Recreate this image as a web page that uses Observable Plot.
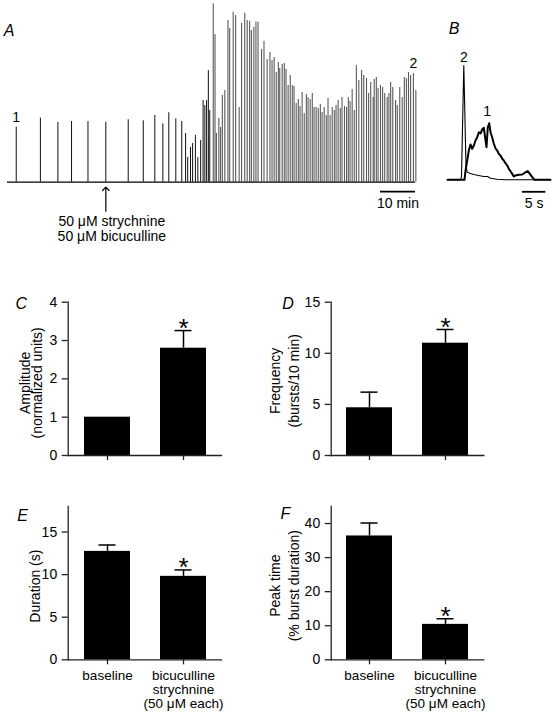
<!DOCTYPE html>
<html><head><meta charset="utf-8">
<script src="https://cdn.jsdelivr.net/npm/d3@7"></script>
<script src="https://cdn.jsdelivr.net/npm/@observablehq/plot@0.6"></script>
<style>
body{margin:0;background:#fff;}
#fig{position:relative;width:554px;height:713px;background:#fff;}
</style></head><body><div id="fig"></div>
<script>
// ---------- Panel A: burst train (time in min, amplitude in % of largest burst) ----------
const burstTime = [0.2, 7.1, 12.1, 16.0, 20.7, 25.8, 32.2, 36.5, 39.8, 42.1, 43.8, 45.8, 47.5,
  48.6, 49.2, 50.0, 50.6, 51.4, 52.1, 52.9, 53.6, 54.1, 54.6, 55.1, 55.5, 56.5, 57.0, 57.4, 58.1, 58.6,
  59.1, 59.8, 60.7, 61.2, 62.2, 62.9, 63.9, 64.6, 65.5, 66.2, 66.9, 67.4, 68.1, 68.7, 69.3, 70.3, 71.0,
  71.9, 72.7, 73.3, 73.9, 74.5, 75.1, 75.5, 76.2, 76.8, 77.3, 77.9, 78.5, 79.1, 79.6, 80.2, 80.8, 81.3,
  81.9, 82.5, 83.1, 83.6, 84.2, 84.8, 85.3, 85.9, 86.5, 87.1, 87.6, 88.2, 88.8, 89.3, 89.9, 90.5, 91.1,
  91.6, 92.2, 92.8, 93.3, 94.0, 94.6, 95.1, 95.6, 96.2, 96.8, 97.4, 98.1, 98.9, 99.5, 100.3, 100.9,
  101.5, 102.2, 102.5, 103.1, 103.6, 104.3, 104.9, 105.5, 106.2, 106.7, 107.2, 107.8, 108.6, 109.1,
  109.8, 110.5, 111.1, 111.7, 112.3, 112.9, 113.7, 114.4];
const burstAmp = [30.6, 35.6, 33.2, 33.7, 33.7, 33.3, 34.7, 34.1, 37.1, 32.4, 38.6, 35.2, 33.7,
  27.0, 13.7, 19.3, 21.5, 26.0, 13.7, 23.2, 45.4, 42.6, 45.4, 62.0, 39.8, 99.1, 82.0, 27.0, 35.4, 30.4,
  48.2, 51.0, 89.8, 85.4, 94.4, 92.6, 41.5, 88.2, 93.9, 89.8, 89.4, 84.3, 86.1, 89.0, 88.9, 73.7, 78.3,
  68.2, 72.1, 67.6, 69.3, 60.9, 66.5, 63.2, 65.4, 65.9, 62.6, 53.7, 59.3, 53.7, 53.2, 43.7, 45.9, 42.1,
  49.8, 38.2, 48.7, 47.1, 45.9, 49.3, 41.5, 41.5, 40.9, 43.2, 38.7, 41.5, 37.1, 46.5, 37.1, 41.5, 39.8,
  42.6, 45.4, 40.9, 47.1, 42.1, 41.5, 47.1, 44.8, 51.5, 39.8, 64.8, 56.5, 62.1, 59.3, 57.6, 49.3,
  55.4, 47.1, 57.1, 58.2, 52.1, 53.7, 52.6, 49.3, 47.1, 49.3, 55.4, 52.6, 45.4, 42.6,
  52.6, 47.1, 58.2, 57.6, 60.9, 59.3, 60.4, 50.9];
const burstLabelIdx = [0, 117];          // bursts marked "1" and "2"
const burstLabelText = ["1", "2"];
const drugTime = 25.8;                   // min, time of drug application
const drugLines = ["50 μM strychnine", "50 μM bicuculline"];
const scaleA = {end: 114.3, len: 10, label: "10 min"};

// ---------- Panel B: single bursts (time in s, amplitude relative to burst 2 peak) ----------
const b1Time = [0, 3.63, 3.85, 4.21, 4.55, 4.91, 5.28, 5.62, 5.98, 6.35, 6.69, 7.05, 7.41, 7.76, 8.12, 8.33,
  8.61, 8.91, 9.19, 9.55, 9.89, 10.26, 10.62, 10.96, 11.32, 11.69, 12.03, 12.39, 12.76, 13.1, 13.46, 13.82,
  14.17, 14.53, 15.24, 15.96, 16.67, 17.16, 17.59, 18.1, 18.59, 22];
const b1Amp = [0, 0, 0.08, 0.169, 0.256, 0.309, 0.271, 0.3, 0.344, 0.373, 0.416, 0.405, 0.44, 0.455, 0.344, 0.285,
  0.46, 0.495, 0.416, 0.37, 0.318, 0.274, 0.256, 0.227, 0.213, 0.184, 0.169, 0.145, 0.125, 0.096, 0.075, 0.052,
  0.029, 0.038, 0.044, 0.046, 0.066, 0.075, 0.052, 0.023, 0, 0];
const b2Time = [0, 2.78, 2.99, 3.48, 3.95, 4.21, 4.91, 5.62, 6.62, 7.76, 8.55, 9.19, 10.6, 12.4, 22];
const b2Amp = [0, 0, 0.03, 1.0, 0.125, 0.066, 0.055, 0.046, 0.038, 0.029, 0.029, 0.014, 0.005, 0, 0];
const scaleB = {end: 21, len: 5, label: "5 s"};

// ---------- Panels C–F: bar data ----------
const groups = ["baseline", "bicuculline\nstrychnine\n(50 μM each)"];
const ampMean = [1.0, 2.80],  ampErr = [0, 0.46];
const freqMean = [4.67, 10.99], freqErr = [1.53, 1.34];
const durMean = [12.73, 9.8], durErr = [0.75, 0.75];
const peakMean = [36.35, 10.4], peakErr = [3.8, 1.65];
const signif = ["", "*"];

// ---------- drawing ----------
const FONT = '"Liberation Sans", Arial, Helvetica, sans-serif';
const STYLE = {fontFamily: FONT, fontSize: "14px", background: "transparent", overflow: "visible", color: "#000"};
const fig = document.getElementById("fig");
function place(svg, left, top) {
  svg.style.position = "absolute";
  svg.style.left = left + "px";
  svg.style.top = top + "px";
  svg.style.maxWidth = "none";
  fig.appendChild(svg);
}

// Panel A
const spikes = burstTime.map((t, i) => ({t, a: burstAmp[i]}));
const labA = burstLabelIdx.map((k, i) => ({t: burstTime[k], a: burstAmp[k], text: burstLabelText[i]}));
const A = Plot.plot({
  width: 440, height: 245, marginLeft: 7, marginRight: 25, marginTop: 1.7, marginBottom: 63.3,
  x: {domain: [-2.3, 114.3], axis: null},
  y: {domain: [0, 100], axis: null},
  style: STYLE,
  marks: [
    Plot.ruleX(spikes, {x: "t", y1: 0, y2: "a", stroke: d => d.t < 56 ? "#111" : "#5a5a5a", strokeWidth: d => d.t < 56 ? 1 : 1.1}),
    Plot.ruleY([0], {stroke: "#000", strokeWidth: 1.3}),
    Plot.text(labA, {x: "t", y: "a", text: "text", dy: -9.5, fontSize: 14}),
    Plot.vector([drugTime], {x: d => d, y: 0, length: 24, rotate: 0, anchor: "start", dy: 29, r: 2.4, stroke: "#000", strokeWidth: 1.2}),
    Plot.text([drugLines.join("\n")], {x: drugTime, y: 0, dx: 6, dy: 46.7, lineHeight: 1.09, fontSize: 14}),
    Plot.ruleY([0], {x1: scaleA.end - scaleA.len, x2: scaleA.end, dy: 9.5, stroke: "#000", strokeWidth: 1.8}),
    Plot.text([scaleA.label], {x: scaleA.end - scaleA.len / 2, y: 0, dy: 21.5, fontSize: 14}),
    Plot.text(["A"], {frameAnchor: "top-left", textAnchor: "start", lineAnchor: "middle", dx: -3.7, dy: 28.3, fontStyle: "italic", fontSize: 16})
  ]
});
place(A, 0, 0);

// Panel B
const tr1 = b1Time.map((t, i) => ({t, v: b1Amp[i]}));
const tr2 = b2Time.map((t, i) => ({t, v: b2Amp[i]}));
const pk1 = tr1.reduce((m, d) => d.v > m.v ? d : m);
const pk2 = tr2.reduce((m, d) => d.v > m.v ? d : m);
const B = Plot.plot({
  width: 114, height: 245, marginLeft: 7, marginRight: 4, marginTop: 65, marginBottom: 65.7,
  x: {domain: [0, 22], axis: null},
  y: {domain: [0, 1], axis: null},
  style: STYLE,
  marks: [
    Plot.line(tr2, {x: "t", y: "v", stroke: "#000", strokeWidth: 1.1}),
    Plot.line(tr1, {x: "t", y: "v", stroke: "#000", strokeWidth: 2}),
    Plot.text([pk2], {x: "t", y: "v", text: () => "2", dy: -8, fontSize: 14}),
    Plot.text([pk1], {x: "t", y: "v", text: () => "1", dx: -2, dy: -11.5, fontSize: 14}),
    Plot.ruleY([0], {x1: scaleB.end - scaleB.len, x2: scaleB.end, dy: 12, stroke: "#000", strokeWidth: 1.8}),
    Plot.text([scaleB.label], {x: scaleB.end - scaleB.len / 2, y: 0, dy: 24, fontSize: 14}),
    Plot.text(["B"], {frameAnchor: "top-left", textAnchor: "start", lineAnchor: "middle", dx: 1.3, dy: -36.7, fontStyle: "italic", fontSize: 16})
  ]
});
place(B, 440, 0);

function barPanel(o) {
  const data = groups.map((c, i) => ({c, m: o.means[i], e: o.errs[i], s: signif[i]}));
  const withErr = data.filter(d => d.e > 0);
  const marks = [
    Plot.ruleX(withErr, {x: "c", y1: "m", y2: d => d.m + d.e, stroke: "#000", strokeWidth: 1.5}),
    Plot.tickY(withErr, {x: "c", y: d => d.m + d.e, insetLeft: 14.5, insetRight: 14.5, stroke: "#000", strokeWidth: 1.5}),
    Plot.barY(data, {x: "c", y: "m", fill: "#000"}),
    Plot.text(data.filter(d => d.s), {x: "c", y: d => d.m + d.e, text: "s", dy: -2.2, fontSize: 26}),
    Plot.frame({anchor: "left", stroke: "#222", strokeWidth: 1.3}),
    Plot.frame({anchor: "bottom", stroke: "#222", strokeWidth: 1.3}),
    Plot.axisY({ticks: o.ticks, tickFormat: d => String(d), tickSize: 6, tickPadding: 5, fontSize: 14, stroke: "#222", strokeWidth: 1.3, label: null}),
    Plot.axisX({tickSize: 5, tickPadding: 5, fontSize: 13.5, stroke: "#222", strokeWidth: 1.3, label: null, lineHeight: 1.04,
      tickFormat: o.showX ? (d => d) : (() => "")}),
    Plot.text([o.letter], {frameAnchor: "top-left", textAnchor: "start", lineAnchor: "middle", dx: o.ldx, dy: o.ldy, fontStyle: "italic", fontSize: 16})
  ];
  o.labels.forEach((lab, i) => marks.push(
    Plot.text([lab], {frameAnchor: "left", textAnchor: "middle", lineAnchor: "middle", rotate: -90, dx: o.labDx[i], dy: o.labDy, fontSize: 14})
  ));
  return Plot.plot({
    width: o.w, height: o.h, marginLeft: o.ml, marginRight: o.mr, marginTop: o.mt, marginBottom: o.mb,
    x: {domain: groups, paddingInner: 0.4, paddingOuter: 0.2},
    y: {domain: o.domain},
    style: STYLE,
    marks
  });
}

place(barPanel({means: ampMean, errs: ampErr, domain: [0, 4], ticks: [0, 1, 2, 3, 4], showX: false,
  labels: ["Amplitude", "(normalized units)"], labDx: [-42.7, -30.2], labDy: 4,
  letter: "C", ldx: -52.7, ldy: 2.1,
  w: 277, h: 200, ml: 67.7, mr: 56, mt: 21.7, mb: 25}), 0, 280);

place(barPanel({means: freqMean, errs: freqErr, domain: [0, 15], ticks: [0, 5, 10, 15], showX: false,
  labels: ["Frequency", "(bursts/10 min)"], labDx: [-55.2, -36.7], labDy: 2,
  letter: "D", ldx: -49, ldy: 1.6,
  w: 277, h: 200, ml: 53.7, mr: 70.7, mt: 21.7, mb: 25}), 277, 280);

place(barPanel({means: durMean, errs: durErr, domain: [0, 18], ticks: [0, 5, 10, 15], showX: true,
  labels: ["Duration (s)"], labDx: [-32.7], labDy: 3,
  letter: "E", ldx: -51, ldy: 9,
  w: 277, h: 223, ml: 67.7, mr: 56, mt: 16, mb: 53.7}), 0, 490);

place(barPanel({means: peakMean, errs: peakErr, domain: [0, 45], ticks: [0, 10, 20, 30, 40], showX: true,
  labels: ["Peak time", "(% burst duration)"], labDx: [-55.2, -36.7], labDy: 2.5,
  letter: "F", ldx: -50.7, ldy: 7.8,
  w: 277, h: 223, ml: 53.7, mr: 70.7, mt: 16, mb: 53.7}), 277, 490);
</script></body></html>
